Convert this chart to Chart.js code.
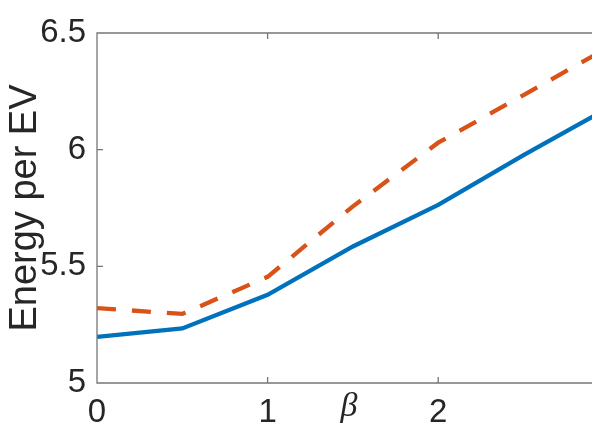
<!DOCTYPE html>
<html>
<head>
<meta charset="utf-8">
<script src="https://cdn.jsdelivr.net/npm/chart.js@4/dist/chart.umd.min.js"></script>
<style>
  html, body { margin: 0; padding: 0; background: #fff; overflow: hidden; }
  #wrap { width: 592px; height: 429px; overflow: hidden; position: relative; }
  #box { width: 628px; height: 429px; }
</style>
</head>
<body>
<div id="wrap"><div id="box"><canvas id="chart"></canvas></div></div>
<script>
// valeurs
const betaValues = [0, 0.5, 1, 1.5, 2, 2.5, 3];
const solidEnergy = [5.198, 5.234, 5.378, 5.585, 5.763, 5.977, 6.18];
const dashedEnergy = [5.321, 5.296, 5.455, 5.757, 6.03, 6.234, 6.44];
const xTicks = [0, 1, 2, 3];
const yTicks = [5, 5.5, 6, 6.5];

const axisColor = '#767676';
const textColor = '#262626';

const toPoints = (xs, ys) => xs.map((x, i) => ({ x, y: ys[i] }));

// boîte + ticks vers l'intérieur, façon MATLAB
const matlabAxes = {
    id: 'matlabAxes',
    afterDatasetsDraw(chart) {
        const { ctx, chartArea: a, scales: { x, y } } = chart;
        const tl = 6;
        ctx.save();
        ctx.strokeStyle = axisColor;
        ctx.lineWidth = 1.3;
        ctx.beginPath();
        ctx.rect(a.left, a.top, a.right - a.left, a.bottom - a.top);
        xTicks.forEach(v => {
            const px = x.getPixelForValue(v);
            ctx.moveTo(px, a.bottom); ctx.lineTo(px, a.bottom - tl);
            ctx.moveTo(px, a.top); ctx.lineTo(px, a.top + tl);
        });
        yTicks.forEach(v => {
            const py = y.getPixelForValue(v);
            ctx.moveTo(a.left, py); ctx.lineTo(a.left + tl, py);
            ctx.moveTo(a.right, py); ctx.lineTo(a.right - tl, py);
        });
        ctx.stroke();

        // label beta, posé entre les ticks comme dans l'original
        ctx.fillStyle = textColor;
        ctx.font = 'italic 34px "Liberation Serif", "DejaVu Serif", serif';
        ctx.textAlign = 'center';
        ctx.textBaseline = 'alphabetic';
        ctx.fillText('β', x.getPixelForValue(1.5) - 4, 416);
        ctx.restore();
    }
};

new Chart(document.getElementById('chart').getContext('2d'), {
    type: 'line',
    data: {
        datasets: [
            {
                data: toPoints(betaValues, solidEnergy),
                borderColor: '#0072BD',
                borderWidth: 4.3,
                pointRadius: 0,
                tension: 0
            },
            {
                data: toPoints(betaValues, dashedEnergy),
                borderColor: '#D95319',
                borderWidth: 4.3,
                borderDash: [19, 16],
                borderCapStyle: 'butt',
                pointRadius: 0,
                tension: 0
            }
        ]
    },
    options: {
        responsive: true,
        maintainAspectRatio: false,
        animation: false,
        layout: { padding: { left: 0, top: 33, right: 14, bottom: 0 } },
        plugins: { legend: { display: false }, tooltip: { enabled: false } },
        scales: {
            x: {
                type: 'linear',
                min: 0,
                max: 3,
                afterBuildTicks: s => { s.ticks = xTicks.map(value => ({ value })); },
                afterFit: s => { s.height = 46; },
                grid: { display: false, drawTicks: false },
                border: { display: false },
                ticks: {
                    padding: 10,
                    color: textColor,
                    font: { family: '"Liberation Sans", Arial, sans-serif', size: 33 },
                    maxRotation: 0
                }
            },
            y: {
                min: 5,
                max: 6.5,
                afterBuildTicks: s => { s.ticks = yTicks.map(value => ({ value })); },
                afterFit: s => { s.width = 97; },
                grid: { display: false, drawTicks: false },
                border: { display: false },
                title: {
                    display: true,
                    text: 'Energy per EV',
                    color: textColor,
                    font: { family: '"Liberation Sans", Arial, sans-serif', size: 38 },
                    padding: { top: 3, bottom: 0 }
                },
                ticks: {
                    padding: 11,
                    color: textColor,
                    font: { family: '"Liberation Sans", Arial, sans-serif', size: 33 },
                    callback: v => String(v)
                }
            }
        }
    },
    plugins: [matlabAxes]
});
</script>
</body>
</html>
